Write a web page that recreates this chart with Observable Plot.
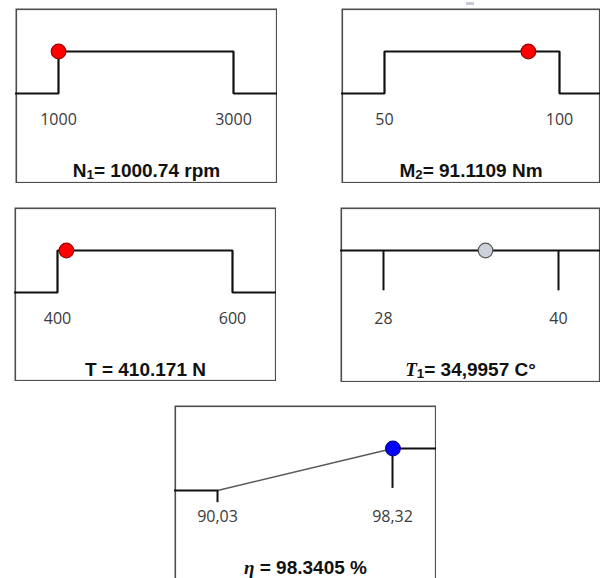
<!DOCTYPE html>
<html><head><meta charset="utf-8">
<script src="https://cdn.jsdelivr.net/npm/d3@7"></script>
<script src="https://cdn.jsdelivr.net/npm/@observablehq/plot@0.6"></script>
<style>
body{margin:0;background:#fff;}
#root{position:relative;width:601px;height:578px;overflow:hidden;background:#fff;}
#root svg{position:absolute;overflow:hidden;}
#dash{position:absolute;left:466px;top:2px;width:8px;height:3px;background:#c5cad6;}
</style></head><body><div id="root"><div id="dash"></div></div>
<script>
// ---- data ----
const parameters = ["N1", "M2", "T", "T1", "eta"];
const lowerLimits = [1000, 50, 400, 28, 90.03];
const upperLimits = [3000, 100, 600, 40, 98.32];
const currentValues = [1000.74, 91.1109, 410.171, 34.9957, 98.3405];
const tickLabels = [["1000", "3000"], ["50", "100"], ["400", "600"], ["28", "40"], ["90,03", "98,32"]];
const profileTypes = ["window", "window", "window", "flat", "ramp"];
const titleParts = [
  [["N"], ["1", "sub"], ["= 1000.74 rpm"]],
  [["M"], ["2", "sub"], ["= 91.1109 Nm"]],
  [["T = 410.171 N"]],
  [["T", "var"], ["1", "sub"], ["= 34,9957 C°"]],
  [["η", "var"], [" = 98.3405 %"]]
];

// ---- layout / style ----
const layout = [
  {left: 15, top: 8, width: 262, height: 175},
  {left: 341, top: 8, width: 259, height: 175},
  {left: 14, top: 207, width: 262, height: 174},
  {left: 340, top: 207, width: 260, height: 175},
  {left: 174, top: 405, width: 262, height: 200}
];
const dotStyles = [
  {fill: "#ff0000", stroke: "#9a0000"},
  {fill: "#ff0000", stroke: "#9a0000"},
  {fill: "#ff0000", stroke: "#9a0000"},
  {fill: "#cdd1dc", stroke: "#555555"},
  {fill: "#0000ff", stroke: "#00008f"}
];
const LINE = "#111111";
const root = document.getElementById("root");

parameters.forEach((p, i) => {
  const lo = lowerLimits[i], hi = upperLimits[i], v = currentValues[i];
  const type = profileTypes[i], L = layout[i];
  const ext = hi - lo;
  const marks = [Plot.frame({stroke: "#4e4e4e", strokeWidth: 1.6, inset: 0.8})];
  let level;
  if (type === "window") {
    const pts = [[lo - ext, 0], [lo, 0], [lo, 1], [hi, 1], [hi, 0], [hi + ext, 0]].map(([x, y]) => ({x, y}));
    marks.push(Plot.line(pts, {x: "x", y: "y", stroke: LINE, strokeWidth: 2.2, strokeLinejoin: "miter", clip: true}));
    level = (v >= lo && v <= hi) ? 1 : 0;
  } else if (type === "flat") {
    const pts = [[lo - ext, 1], [hi + ext, 1]].map(([x, y]) => ({x, y}));
    marks.push(Plot.line(pts, {x: "x", y: "y", stroke: LINE, strokeWidth: 2.2, clip: true}));
    marks.push(Plot.ruleX([lo, hi], {x: d => d, y1: 1, y2: 0.04, stroke: LINE, strokeWidth: 2}));
    level = 1;
  } else {
    level = Math.max(0, Math.min(1, (v - lo) / (hi - lo)));
    const low = [[lo - ext, 0], [lo, 0]].map(([x, y]) => ({x, y}));
    const high = [[v, level], [hi + ext, level]].map(([x, y]) => ({x, y}));
    const slant = [[lo, 0], [v, level]].map(([x, y]) => ({x, y}));
    marks.push(Plot.line(low, {x: "x", y: "y", stroke: LINE, strokeWidth: 2.2, clip: true}));
    marks.push(Plot.line(high, {x: "x", y: "y", stroke: LINE, strokeWidth: 2.2, clip: true}));
    marks.push(Plot.line(slant, {x: "x", y: "y", stroke: "#5a5a5a", strokeWidth: 1.5}));
    marks.push(Plot.ruleX([lo], {x: d => d, y1: 0, y2: -0.29, stroke: LINE, strokeWidth: 2}));
    marks.push(Plot.ruleX([hi], {x: d => d, y1: 1, y2: 0.05, stroke: LINE, strokeWidth: 2}));
  }
  marks.push(Plot.dot([v], {x: d => d, y: level, r: 7.3, fill: dotStyles[i].fill, stroke: dotStyles[i].stroke, strokeWidth: 1.2}));
  marks.push(Plot.text([lo, hi], {
    x: d => d, y: 0, dy: 26, text: (d, j) => tickLabels[i][j],
    fontSize: 16, fontFamily: "Open Sans, sans-serif", fill: "#3a3a3a", lineAnchor: "middle"
  }));
  const full = titleParts[i].map(d => d[0]).join("");
  marks.push(Plot.text([full], {
    frameAnchor: "top", dy: 162, text: d => d, fontSize: 19, fontWeight: "bold",
    fontFamily: "Liberation Sans, Arial, sans-serif", fill: "#111", lineAnchor: "middle"
  }));

  const svg = Plot.plot({
    width: L.width, height: L.height,
    marginTop: 0, marginRight: 0, marginBottom: 0, marginLeft: 0,
    x: {domain: [lo, hi], range: [43, 218], axis: null},
    y: {domain: [0, 1], range: [85, 43], axis: null},
    marks
  });
  svg.style.left = L.left + "px";
  svg.style.top = L.top + "px";

  d3.select(svg).selectAll("text").filter(function () { return this.textContent === full; })
    .each(function () {
      const t = d3.select(this);
      t.text(null);
      let prevSub = false;
      titleParts[i].forEach(([s, kind]) => {
        const ts = t.append("tspan").text(s);
        if (kind === "sub") {
          ts.attr("font-size", "0.7em").attr("dy", 2.5);
        } else if (prevSub) {
          ts.attr("dy", -2.5);
        }
        if (kind === "var") ts.attr("font-family", "Liberation Serif, serif").attr("font-style", "italic");
        prevSub = kind === "sub";
      });
    });
  root.appendChild(svg);
});
</script></body></html>
